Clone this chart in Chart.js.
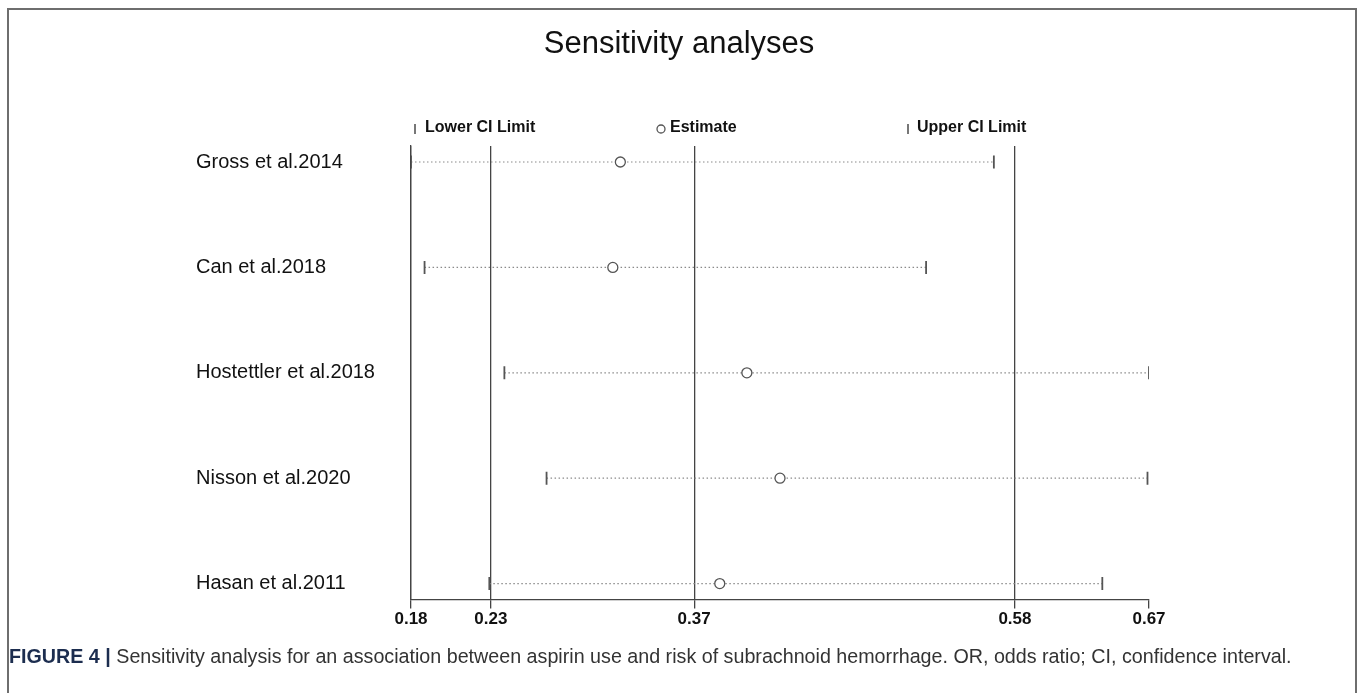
<!DOCTYPE html>
<html>
<head>
<meta charset="utf-8">
<title>Sensitivity analyses</title>
<script src="https://cdn.jsdelivr.net/npm/chart.js@4.4.1/dist/chart.umd.min.js"></script>
<style>
    html, body { margin: 0; padding: 0; background: #fff; }
    body { width: 1360px; height: 693px; position: relative; overflow: hidden; }
    #frame {
        position: absolute; left: 7px; top: 8px; width: 1346px; height: 700px;
        border: 2px solid #6e6e6e; border-bottom: none;
    }
    #wrap { position: absolute; left: 0; top: 0; width: 1360px; height: 693px; }
    #caption {
        position: absolute; left: 9px; top: 645px;
        font-family: "Liberation Sans", Arial, sans-serif;
        font-size: 19.7px; color: #333; white-space: nowrap;
    }
    #caption b { color: #1c2d4f; }
</style>
</head>
<body>
<div id="frame"></div>
<div id="wrap"><canvas id="chart"></canvas></div>
<div id="caption"><b>FIGURE 4 |</b> Sensitivity analysis for an association between aspirin use and risk of subrachnoid hemorrhage. OR, odds ratio; CI, confidence interval.</div>

<script>
// ข้อมูลการวิเคราะห์ความไว (ตัดทีละการศึกษา)
const studies = ['Gross et al.2014', 'Can et al.2018', 'Hostettler et al.2018', 'Nisson et al.2020', 'Hasan et al.2011'];
const lowerCI = [0.180, 0.189, 0.242, 0.270, 0.232];
const estimate = [0.319, 0.314, 0.403, 0.425, 0.385];
const upperCI = [0.567, 0.522, 0.670, 0.669, 0.639];

// ค่าบนแกน x (เส้นแนวตั้ง = ค่ารวม)
const tickValues = [0.18, 0.233, 0.368, 0.581, 0.67];
const xMin = 0.18;
const xMax = 0.67;

const markColor = '#555';

// เส้นประของช่วงความเชื่อมั่นแต่ละการศึกษา
const ciLines = studies.map((name, i) => ({
    type: 'line',
    label: name,
    data: [{ x: lowerCI[i], y: i }, { x: upperCI[i], y: i }],
    borderColor: '#8a8a8a',
    borderWidth: 1.2,
    borderDash: [1.5, 2.5],
    pointRadius: 0,
    order: 5
}));

// หัวเรื่อง + legend แบบกำหนดเอง
const customLegend = {
    id: 'customLegend',
    afterDraw(chart) {
        const ctx = chart.ctx;
        const y = 128;
        ctx.save();

        ctx.font = '31px "Liberation Sans", Arial, sans-serif';
        ctx.fillStyle = '#111';
        ctx.textAlign = 'center';
        ctx.textBaseline = 'middle';
        ctx.fillText('Sensitivity analyses', 679, 44);

        ctx.textAlign = 'left';
        ctx.font = 'bold 16px "Liberation Sans", Arial, sans-serif';
        ctx.strokeStyle = markColor;

        const drawBar = (x) => {
            ctx.lineWidth = 1.6;
            ctx.beginPath();
            ctx.moveTo(x, y - 4);
            ctx.lineTo(x, y + 6);
            ctx.stroke();
        };

        drawBar(415);
        ctx.fillText('Lower CI Limit', 425, y);

        ctx.lineWidth = 1.3;
        ctx.beginPath();
        ctx.arc(661, y + 1, 4, 0, Math.PI * 2);
        ctx.stroke();
        ctx.fillText('Estimate', 670, y);

        drawBar(908);
        ctx.fillText('Upper CI Limit', 917, y);
        ctx.restore();
    }
};

const ctx = document.getElementById('chart');

new Chart(ctx, {
    type: 'scatter',
    data: {
        datasets: [
            {
                label: 'Estimate',
                data: estimate.map((v, i) => ({ x: v, y: i })),
                pointStyle: 'circle',
                pointRadius: 5,
                borderColor: markColor,
                borderWidth: 1.3,
                backgroundColor: '#fff',
                order: 1
            },
            {
                label: 'Lower CI Limit',
                data: lowerCI.map((v, i) => ({ x: v, y: i })),
                pointStyle: 'line',
                rotation: 90,
                pointRadius: 6.5,
                borderColor: markColor,
                borderWidth: 1.8,
                order: 2
            },
            {
                label: 'Upper CI Limit',
                data: upperCI.map((v, i) => ({ x: v, y: i })),
                pointStyle: 'line',
                rotation: 90,
                pointRadius: 6.5,
                borderColor: markColor,
                borderWidth: 1.8,
                order: 2
            },
            ...ciLines
        ]
    },
    options: {
        responsive: true,
        maintainAspectRatio: false,
        animation: false,
        layout: {
            padding: { left: 196, right: 211, top: 146, bottom: 62 }
        },
        plugins: {
            legend: { display: false },
            tooltip: { enabled: false },
            title: { display: false }
        },
        scales: {
            x: {
                type: 'linear',
                min: xMin,
                max: xMax,
                afterBuildTicks: (scale) => {
                    scale.ticks = tickValues.map(v => ({ value: v }));
                },
                ticks: {
                    color: '#111',
                    padding: 1,
                    font: { family: '"Liberation Sans", Arial, sans-serif', size: 17, weight: 'bold' },
                    callback: (v) => Number(v).toFixed(2)
                },
                grid: {
                    display: true,
                    drawOnChartArea: true,
                    drawTicks: true,
                    tickLength: 9,
                    lineWidth: 1.3,
                    tickColor: '#444',
                    // ไม่มีเส้นแนวตั้งที่ค่าสูงสุด
                    color: (c) => (c.tick && c.tick.value === xMax ? 'rgba(0,0,0,0)' : '#444')
                },
                border: { display: true, color: '#444', width: 1.3 }
            },
            y: {
                type: 'linear',
                reverse: true,
                min: -0.152,
                max: 4.152,
                afterBuildTicks: (scale) => {
                    scale.ticks = studies.map((s, i) => ({ value: i }));
                },
                afterFit: (scale) => {
                    scale.width = 215;
                },
                ticks: {
                    crossAlign: 'far',
                    color: '#111',
                    font: { family: '"Liberation Sans", Arial, sans-serif', size: 20 },
                    callback: (v) => studies[v]
                },
                grid: { display: false },
                border: { display: true, color: '#444', width: 1.3 }
            }
        }
    },
    plugins: [customLegend]
});
</script>
</body>
</html>
